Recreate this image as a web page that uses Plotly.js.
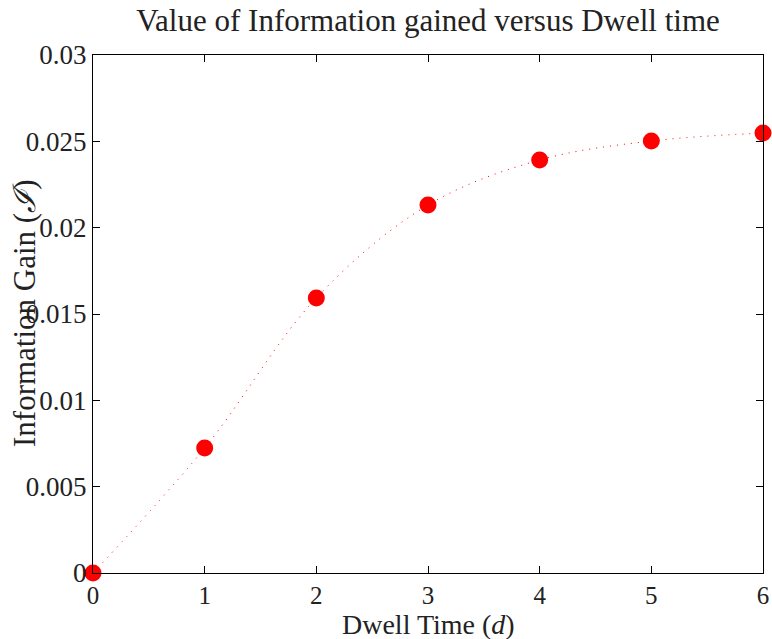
<!DOCTYPE html>
<html>
<head>
<meta charset="utf-8">
<script src="https://cdn.plot.ly/plotly-3.0.1.min.js"></script>
<style>html,body{margin:0;padding:0;background:#fff;}#chart{width:772px;height:639px;}</style>
</head>
<body>
<div id="chart"></div>
<script>
var dwellTime = [0, 1, 2, 3, 4, 5, 6];
var infoGain = [0, 0.00724, 0.01593, 0.02131, 0.02392, 0.02502, 0.02548];
var xTickVals = [0, 1, 2, 3, 4, 5, 6];
var xTickText = ['0', '1', '2', '3', '4', '5', '6'];
var yTickVals = [0, 0.005, 0.01, 0.015, 0.02, 0.025, 0.03];
var yTickText = ['0', '0.005', '0.01', '0.015', '0.02', '0.025', '0.03'];

var FONT = 'Liberation Serif, DejaVu Serif, serif';

var traces = [{
  x: dwellTime, y: infoGain, type: 'scatter', mode: 'lines',
  line: {color: '#ff0000', width: 1, dash: '1px,6px', shape: 'spline', smoothing: 1},
  hoverinfo: 'skip', showlegend: false
}, {
  x: dwellTime, y: infoGain, type: 'scatter', mode: 'markers',
  marker: {color: '#ff0000', size: 17, line: {width: 0}},
  cliponaxis: false, showlegend: false
}];

var axisCommon = {
  showgrid: false, zeroline: false, showline: true, linecolor: '#000', linewidth: 1,
  mirror: 'ticks', ticks: 'inside', ticklen: 7, tickwidth: 1, tickcolor: '#000',
  tickfont: {family: FONT, size: 27, color: '#222'}
};

var layout = {
  width: 772, height: 639,
  paper_bgcolor: '#fff', plot_bgcolor: '#fff',
  margin: {l: 93, r: 9, t: 55, b: 66},
  title: {text: 'Value of Information gained versus Dwell time',
          font: {family: FONT, size: 31, color: '#222'},
          x: 0.5, xref: 'paper', y: 1 - 20/639, yref: 'container', yanchor: 'middle'},
  xaxis: Object.assign({}, axisCommon, {
    range: [0, 6], tickvals: xTickVals, ticktext: xTickText,
    tickfont: {family: FONT, size: 25, color: '#222'}
  }),
  yaxis: Object.assign({}, axisCommon, {
    range: [0, 0.03], tickvals: yTickVals, ticktext: yTickText
  }),
  annotations: [{
    text: 'Information Gain (<i>ℐ</i>)', textangle: -90,
    xref: 'paper', yref: 'paper', x: (24 - 93) / 670, y: 0.5,
    xanchor: 'center', yanchor: 'middle', showarrow: false,
    font: {family: FONT, size: 31, color: '#222'}
  }, {
    text: 'Dwell Time (<i>d</i>)',
    xref: 'paper', yref: 'paper', x: 0.5, y: (573 - 642) / 518,
    xanchor: 'center', yanchor: 'bottom', showarrow: false,
    font: {family: FONT, size: 28, color: '#222'}
  }]
};

Plotly.newPlot('chart', traces, layout, {displayModeBar: false, responsive: false});
</script>
</body>
</html>
